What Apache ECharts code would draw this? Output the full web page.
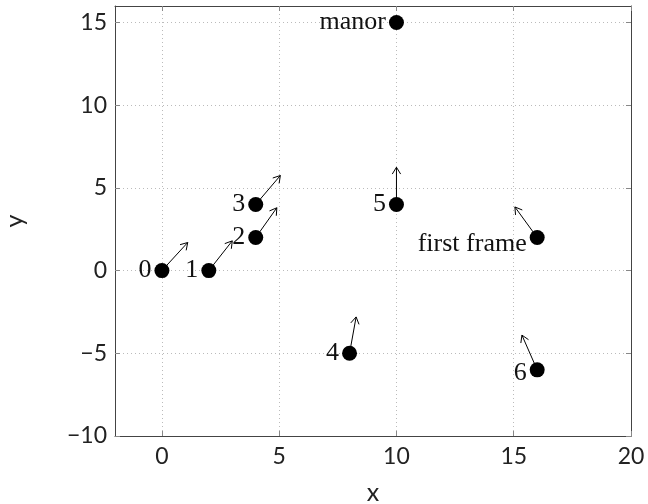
<!DOCTYPE html>
<html>
<head>
<meta charset="utf-8">
<script src="https://cdn.jsdelivr.net/npm/echarts@6/dist/echarts.min.js"></script>
<style>
  html, body { margin: 0; padding: 0; background: #fff; }
  #chart { width: 648px; height: 504px; }
</style>
</head>
<body>
<div id="chart"></div>
<script>
// points and their labels
const names = ['0', '1', '2', '3', '4', '5', '6', 'first frame', 'manor'];
const xs = [0, 2, 4, 4, 8, 10, 16, 16, 10];
const ys = [0, 0, 2, 4, -5, 4, -6, 2, 15];
// arrow vectors (data units)
const dxs = [1.1, 1.0, 0.9, 1.05, 0.28, 0, -0.65, -0.95, null];
const dys = [1.7, 1.8, 1.8, 1.75, 2.2, 2.25, 2.1, 1.85, null];
// ticks
const xTicks = [0, 5, 10, 15, 20];
const yTicks = [-10, -5, 0, 5, 10, 15];

const labelOffsets = { '6': [0, 3], 'first frame': [0, 7] };

const chart = echarts.init(document.getElementById('chart'));

const pointData = names.map((n, i) => ({
    value: [xs[i], ys[i]],
    name: n,
    label: { offset: labelOffsets[n] || [0, 0] }
}));
const arrowData = [];
names.forEach((n, i) => {
    if (dxs[i] != null) arrowData.push([xs[i], ys[i], dxs[i], dys[i]]);
});

const tickFont = { fontFamily: 'Lato', fontSize: 23, color: '#222' };
const fmt = v => String(v).replace('-', '\u2212');

function renderArrow(params, api) {
    const x = api.value(0), y = api.value(1);
    const p0 = api.coord([x, y]);
    const p1 = api.coord([x + api.value(2), y + api.value(3)]);
    const a = Math.atan2(p1[1] - p0[1], p1[0] - p0[0]);
    const L = 8, s = 0.55;
    const h1 = [p1[0] - L * Math.cos(a - s), p1[1] - L * Math.sin(a - s)];
    const h2 = [p1[0] - L * Math.cos(a + s), p1[1] - L * Math.sin(a + s)];
    const st = { stroke: '#000', lineWidth: 1, fill: null };
    return {
        type: 'group',
        children: [
            { type: 'line', shape: { x1: p0[0], y1: p0[1], x2: p1[0], y2: p1[1] }, style: st },
            { type: 'polyline', shape: { points: [h1, p1, h2] }, style: st }
        ]
    };
}

const option = {
    animation: false,
    grid: { left: 115, right: 17, top: 6, bottom: 68, containLabel: false, outerBoundsMode: 'none' },
    xAxis: [{
        type: 'value', min: -2, max: 20,
        name: 'x', nameLocation: 'middle', nameGap: 44,
        nameTextStyle: { fontFamily: 'Lato', fontSize: 25, color: '#222' },
        axisLine: { show: true, onZero: false, lineStyle: { color: '#444', width: 1 } },
        axisTick: { show: true, inside: true, length: 5, customValues: xTicks, lineStyle: { color: '#888' } },
        axisLabel: { customValues: xTicks, formatter: fmt, margin: 9, ...tickFont },
        splitLine: { show: true, lineStyle: { color: '#bbb', type: [1, 3], width: 1 } }
    }, {
        type: 'value', min: -2, max: 20, position: 'top',
        axisLine: { show: true, onZero: false, lineStyle: { color: '#444', width: 1 } },
        axisTick: { show: true, inside: true, length: 5, customValues: xTicks, lineStyle: { color: '#888' } },
        axisLabel: { show: false },
        splitLine: { show: false }
    }],
    yAxis: [{
        type: 'value', min: -10, max: 16,
        name: 'y', nameLocation: 'middle', nameGap: 88, nameRotate: 90,
        nameTextStyle: { fontFamily: 'Lato', fontSize: 25, color: '#222' },
        axisLine: { show: true, onZero: false, lineStyle: { color: '#444', width: 1 } },
        axisTick: { show: true, inside: true, length: 5, customValues: yTicks, lineStyle: { color: '#888' } },
        axisLabel: { customValues: yTicks, formatter: fmt, margin: 8, ...tickFont },
        splitLine: { show: true, lineStyle: { color: '#bbb', type: [1, 3], width: 1 } }
    }, {
        type: 'value', min: -10, max: 16, position: 'right',
        axisLine: { show: true, onZero: false, lineStyle: { color: '#444', width: 1 } },
        axisTick: { show: true, inside: true, length: 5, customValues: yTicks, lineStyle: { color: '#888' } },
        axisLabel: { show: false },
        splitLine: { show: false }
    }],
    series: [{
        type: 'custom',
        renderItem: renderArrow,
        data: arrowData,
        z: 2,
        silent: true
    }, {
        type: 'scatter',
        data: pointData,
        symbol: 'circle',
        symbolSize: 15,
        itemStyle: { color: '#000', opacity: 1 },
        z: 3,
        label: {
            show: true,
            position: 'left',
            distance: 3,
            formatter: p => p.name,
            fontFamily: 'Liberation Serif',
            fontSize: 26,
            color: '#111'
        }
    }]
};
chart.setOption(option);
</script>
</body>
</html>
